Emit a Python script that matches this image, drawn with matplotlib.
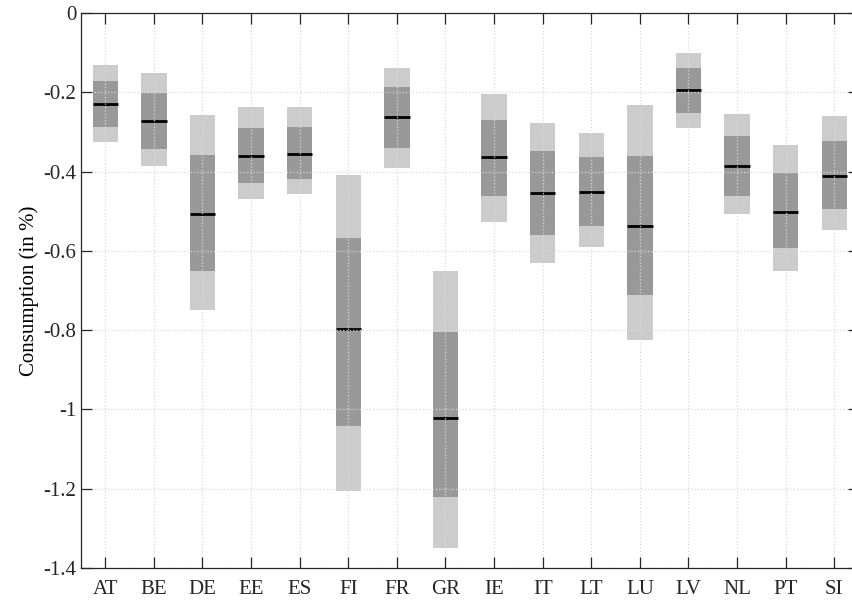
import numpy as np
import matplotlib.pyplot as plt

plt.rcParams['font.family'] = ['Liberation Serif', 'DejaVu Serif']

countries = ['AT', 'BE', 'DE', 'EE', 'ES', 'FI', 'FR', 'GR',
             'IE', 'IT', 'LT', 'LU', 'LV', 'NL', 'PT', 'SI']

# outer band (light) and inner band (dark), plus median response
outer_hi = [-0.131, -0.151, -0.257, -0.237, -0.237, -0.409, -0.139, -0.651,
            -0.204, -0.278, -0.303, -0.232, -0.101, -0.255, -0.333, -0.260]
outer_lo = [-0.325, -0.385, -0.748, -0.469, -0.457, -1.205, -0.390, -1.349,
            -0.526, -0.630, -0.590, -0.824, -0.289, -0.506, -0.650, -0.547]
inner_hi = [-0.172, -0.202, -0.358, -0.290, -0.288, -0.568, -0.187, -0.805,
            -0.270, -0.348, -0.363, -0.361, -0.139, -0.310, -0.404, -0.323]
inner_lo = [-0.288, -0.342, -0.650, -0.429, -0.419, -1.042, -0.341, -1.220,
            -0.462, -0.560, -0.537, -0.711, -0.252, -0.461, -0.593, -0.494]
median = [-0.230, -0.273, -0.506, -0.360, -0.355, -0.798, -0.262, -1.021,
          -0.364, -0.453, -0.451, -0.537, -0.194, -0.387, -0.503, -0.410]

x = np.arange(1, len(countries) + 1)
w = 0.52

fig = plt.figure(figsize=(8.53, 6.03), dpi=100)
# right edge of the box sits just outside the canvas
ax = fig.add_axes([81 / 853, 35 / 603, 777.6 / 853, 555 / 603])

ax.bar(x, np.array(outer_lo) - np.array(outer_hi), bottom=outer_hi, width=w,
       color='#cccccc', zorder=1)
ax.bar(x, np.array(inner_lo) - np.array(inner_hi), bottom=inner_hi, width=w,
       color='#999999', zorder=1.5)
ax.hlines(median, x - w / 2, x + w / 2, colors='black', linewidth=2, zorder=2)

ax.set_xlim(0.5, 16.5)
ax.set_ylim(-1.4, 0)
ax.set_xticks(x)
ax.set_xticklabels(countries)
ax.set_yticks(np.arange(-1.4, 0.01, 0.2))
ax.set_yticklabels(['-1.4', '-1.2', '-1', '-0.8', '-0.6', '-0.4', '-0.2', '0'])
ax.set_ylabel('Consumption (in %)', fontsize=15, labelpad=3)

# dotted grid drawn over the bars, spines on top of everything
ax.set_axisbelow(False)
ax.grid(True, linestyle=':', color='#d9d9d9', linewidth=0.9)
for s in ax.spines.values():
    s.set_color('#262626')
    s.set_linewidth(0.9)
    s.set_zorder(5)
ax.tick_params(direction='in', length=8, width=0.9, color='#262626',
               top=True, right=True, labelsize=15, labelcolor='#262626')
ax.tick_params(axis='x', pad=9)

fig.savefig('out.png', dpi=100)
